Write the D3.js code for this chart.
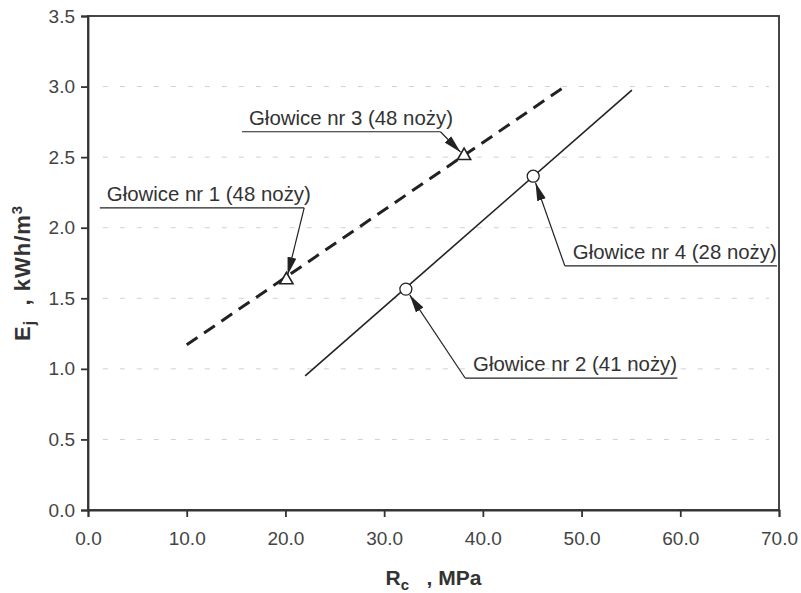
<!DOCTYPE html>
<html>
<head>
<meta charset="utf-8">
<script src="https://cdn.jsdelivr.net/npm/d3@7"></script>
<style>
  body { margin: 0; background: #fff; }
  text { font-family: "Liberation Sans", Arial, sans-serif; }
</style>
</head>
<body>
<div class="canvas"></div>
<script>
// data
const xTicks = [0, 10, 20, 30, 40, 50, 60, 70];
const yTicks = [0, 0.5, 1.0, 1.5, 2.0, 2.5, 3.0, 3.5];

const dashedX = [10, 48.3];
const dashedY = [1.17, 3.0];
const solidX = [22, 55.1];
const solidY = [0.95, 2.975];

const triangleX = [20.1, 38.1];
const triangleY = [1.63, 2.51];
const circleX = [32.2, 45.1];
const circleY = [1.565, 2.365];

const labels = ["Głowice nr 1 (48 noży)", "Głowice nr 3 (48 noży)", "Głowice nr 4 (28 noży)", "Głowice nr 2 (41 noży)"];
// underline of each label (data units) and the marker it points at
const labelX0 = [1.2, 15.6, 48.3, 38.2];
const labelX1 = [21.9, 35.7, 69.8, 59.7];
const labelY = [2.14, 2.68, 1.73, 0.935];
const labelFrom = ["end", "end", "start", "start"];
const labelTarget = [["tri", 0], ["tri", 1], ["circ", 1], ["circ", 0]];

const margin = { top: 16, right: 22, bottom: 83, left: 88 };
const width = 801, height = 593;
const graphWidth = width - margin.left - margin.right;
const graphHeight = height - margin.top - margin.bottom;

const svg = d3
  .select(".canvas")
  .append("svg")
  .attr("width", width)
  .attr("height", height);

svg.append("defs")
  .append("marker")
  .attr("id", "arrow")
  .attr("viewBox", "0 0 18 10")
  .attr("refX", 18)
  .attr("refY", 5)
  .attr("markerWidth", 18)
  .attr("markerHeight", 10)
  .attr("markerUnits", "userSpaceOnUse")
  .attr("orient", "auto")
  .append("path")
  .attr("d", "M0,0.5 L18,5 L0,9.5 Z")
  .attr("fill", "#222");

const graph = svg
  .append("g")
  .attr("transform", `translate(${margin.left}, ${margin.top})`);

const x = d3.scaleLinear().domain([0, 70]).range([0, graphWidth]);
const y = d3.scaleLinear().domain([0, 3.5]).range([graphHeight, 0]);

//grid lines
graph.append("g")
  .selectAll("line")
  .data(yTicks.filter(d => d > 0 && d < 3.5))
  .enter()
  .append("line")
  .attr("x1", x(1.5))
  .attr("x2", x(69))
  .attr("y1", d => y(d))
  .attr("y2", d => y(d))
  .attr("stroke", "#d0d0d0")
  .attr("stroke-width", 1)
  .attr("stroke-dasharray", "5,12");

//box
graph.append("rect")
  .attr("width", graphWidth)
  .attr("height", graphHeight)
  .attr("fill", "none")
  .attr("stroke", "#333")
  .attr("stroke-width", 1.8);

//axes
const xAxis = d3.axisBottom(x).tickValues(xTicks).tickSize(7).tickPadding(15).tickFormat(d3.format(".1f"));
const yAxis = d3.axisLeft(y).tickValues(yTicks).tickSize(7).tickPadding(6).tickFormat(d3.format(".1f"));

const xAxisGroup = graph.append("g")
  .attr("transform", `translate(0, ${graphHeight})`)
  .call(xAxis);
const yAxisGroup = graph.append("g").call(yAxis);

[xAxisGroup, yAxisGroup].forEach(g => {
  g.select(".domain").attr("stroke", "#333").attr("stroke-width", 1.8);
  g.selectAll(".tick line").attr("stroke", "#333").attr("stroke-width", 1.8);
  g.selectAll("text")
    .attr("fill", "#444")
    .style("font-size", "19px")
    .style("font-family", "'Liberation Sans', Arial, sans-serif");
});

//lines
const line = d3.line().x(d => x(d[0])).y(d => y(d[1]));

graph.append("path")
  .datum(d3.zip(dashedX, dashedY))
  .attr("d", line)
  .attr("fill", "none")
  .attr("stroke", "#222")
  .attr("stroke-width", 3)
  .attr("stroke-dasharray", "13,8");

graph.append("path")
  .datum(d3.zip(solidX, solidY))
  .attr("d", line)
  .attr("fill", "none")
  .attr("stroke", "#222")
  .attr("stroke-width", 1.6);

//markers
const tri = d3.symbol().type(d3.symbolTriangle).size(75);
graph.selectAll(".tri")
  .data(d3.zip(triangleX, triangleY))
  .enter()
  .append("path")
  .attr("class", "tri")
  .attr("d", tri)
  .attr("transform", d => `translate(${x(d[0])}, ${y(d[1])})`)
  .attr("fill", "#fff")
  .attr("stroke", "#222")
  .attr("stroke-width", 1.6);

graph.selectAll(".circ")
  .data(d3.zip(circleX, circleY))
  .enter()
  .append("circle")
  .attr("class", "circ")
  .attr("r", 6)
  .attr("cx", d => x(d[0]))
  .attr("cy", d => y(d[1]))
  .attr("fill", "#fff")
  .attr("stroke", "#222")
  .attr("stroke-width", 1.3);

//annotations
const notes = graph.append("g");
labels.forEach((label, i) => {
  const ux0 = x(labelX0[i]), ux1 = x(labelX1[i]), uy = y(labelY[i]);
  notes.append("line")
    .attr("x1", ux0).attr("x2", ux1)
    .attr("y1", uy).attr("y2", uy)
    .attr("stroke", "#222")
    .attr("stroke-width", 1.2);

  notes.append("text")
    .attr("x", ux0 + (labelFrom[i] == "end" ? 7 : 8))
    .attr("y", uy - 7)
    .attr("fill", "#333")
    .style("font-size", "20.4px")
    .text(label);

  const [kind, k] = labelTarget[i];
  const mx = kind == "tri" ? x(triangleX[k]) : x(circleX[k]);
  const my = kind == "tri" ? y(triangleY[k]) : y(circleY[k]);
  const sx = labelFrom[i] == "end" ? ux1 : ux0;
  const dx = sx - mx, dy = uy - my;
  const len = Math.sqrt(dx * dx + dy * dy);
  const off = kind == "tri" ? 5 : 7;
  notes.append("line")
    .attr("x1", sx).attr("y1", uy)
    .attr("x2", mx + dx / len * off)
    .attr("y2", my + dy / len * off)
    .attr("stroke", "#222")
    .attr("stroke-width", 1.2)
    .attr("marker-end", "url(#arrow)");
});

//axis titles
const xTitle = svg.append("text")
  .attr("x", margin.left + x(35))
  .attr("y", 585)
  .attr("text-anchor", "middle")
  .attr("fill", "#333")
  .attr("xml:space", "preserve")
  .style("font-size", "21px")
  .style("font-weight", "bold");
xTitle.append("tspan").text("R");
xTitle.append("tspan").attr("dy", 5).style("font-size", "15px").text("c");
xTitle.append("tspan").attr("dy", -5).text("   , MPa");

const yTitle = svg.append("text")
  .attr("transform", `translate(30, ${margin.top + y(1.68)}) rotate(-90)`)
  .attr("text-anchor", "middle")
  .attr("fill", "#333")
  .attr("xml:space", "preserve")
  .style("font-size", "22px")
  .style("font-weight", "bold")
  .style("letter-spacing", "1px");
yTitle.append("tspan").text("E");
yTitle.append("tspan").attr("dy", 5).style("font-size", "16px").text("j");
yTitle.append("tspan").attr("dy", -5).text("  , kWh/m");
yTitle.append("tspan").attr("dy", -8).style("font-size", "15px").text("3");
</script>
</body>
</html>
